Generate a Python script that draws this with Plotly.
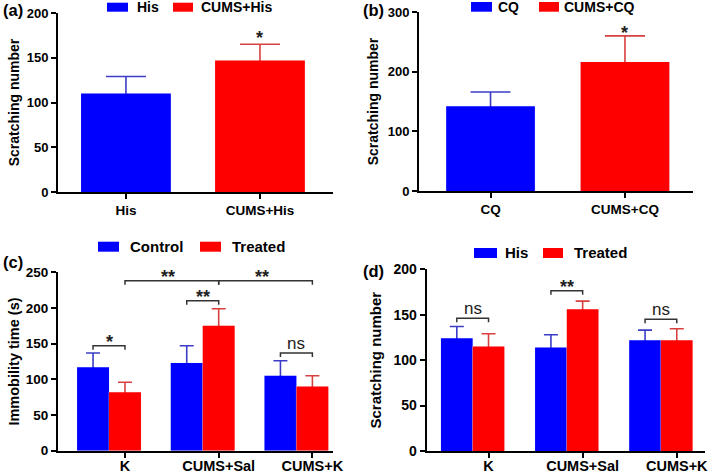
import plotly.graph_objects as go

# ---------------- data ----------------
a_categories = ["His", "CUMS+His"]
a_means = [110, 147]
a_sem = [19, 18]
a_sig = ["", "*"]

b_categories = ["CQ", "CUMS+CQ"]
b_means = [142, 216]
b_sem = [24, 44]
b_sig = ["", "*"]

c_groups = ["K", "CUMS+Sal", "CUMS+K"]
c_series = ["Control", "Treated"]
c_control = [117, 123, 105]
c_control_sem = [20, 24, 21]
c_treated = [82, 175, 90]
c_treated_sem = [14, 24, 15]
# within-group comparisons (group, label, bracket level)
c_within = [("K", "*", 147), ("CUMS+Sal", "**", 210), ("CUMS+K", "ns", 137)]
# between-group comparisons on treated bars (from, to, label, level)
c_between = [("K", "CUMS+Sal", "**", 238), ("CUMS+Sal", "CUMS+K", "**", 238)]

d_groups = ["K", "CUMS+Sal", "CUMS+K"]
d_series = ["His", "Treated"]
d_his = [124, 114, 122]
d_his_sem = [13, 14, 11]
d_treated = [115, 156, 122]
d_treated_sem = [14, 9, 12.5]
d_within = [("K", "ns", 146), ("CUMS+Sal", "**", 176.5), ("CUMS+K", "ns", 145)]

# ---------------- style ----------------
W, H = 709, 473
BLUE, RED = "#0000FF", "#FF0000"
EBLUE, ERED = "#3c3cc8", "#d84040"
FONT = "Arial, 'Liberation Sans', sans-serif"
BR = "#333333"


def px(x):
    return x / W


def py(y):
    return 1 - y / H


fig = go.Figure()


def bars(x, y, sem, color, ecolor, width, offset, hw, xa, ya, name):
    # error bars first (hidden bars) so the real bars cover the lower half
    fig.add_trace(go.Bar(x=x, y=y, marker_color="rgba(0,0,0,0)", width=width,
                         offset=offset, showlegend=False, hoverinfo="skip",
                         error_y=dict(type="data", array=sem, symmetric=True,
                                      color=ecolor, thickness=1.6, width=hw),
                         xaxis=xa, yaxis=ya))
    fig.add_trace(go.Bar(x=x, y=y, name=name, marker_color=color, width=width,
                         offset=offset, showlegend=False, marker_line_width=0,
                         xaxis=xa, yaxis=ya))


# ---- panel (a)
wa = 0.67
bars([a_categories[0]], [a_means[0]], [a_sem[0]], BLUE, EBLUE, wa, -wa / 2, 20, "x", "y", a_categories[0])
bars([a_categories[1]], [a_means[1]], [a_sem[1]], RED, ERED, wa, -wa / 2, 20, "x", "y", a_categories[1])
# ---- panel (b)
wb = 0.66
bars([b_categories[0]], [b_means[0]], [b_sem[0]], BLUE, EBLUE, wb, -wb / 2, 20, "x2", "y2", b_categories[0])
bars([b_categories[1]], [b_means[1]], [b_sem[1]], RED, ERED, wb, -wb / 2, 20, "x2", "y2", b_categories[1])
# ---- panel (c)
wc = 0.341
bars(c_groups, c_control, c_control_sem, BLUE, EBLUE, wc, -1.5 * wc, 7, "x3", "y3", c_series[0])
bars(c_groups, c_treated, c_treated_sem, RED, ERED, wc, -0.5 * wc, 7, "x3", "y3", c_series[1])
# ---- panel (d)
wd = 0.337
bars(d_groups, d_his, d_his_sem, BLUE, EBLUE, wd, -1.5 * wd, 7, "x4", "y4", d_series[0])
bars(d_groups, d_treated, d_treated_sem, RED, ERED, wd, -0.5 * wd, 7, "x4", "y4", d_series[1])

shapes = []
annotations = []


def bracket(xr, yr, x0, x1, level, depth):
    shapes.append(dict(type="path", xref=xr, yref=yr,
                       path=f"M{x0},{level - depth} L{x0},{level} L{x1},{level} L{x1},{level - depth}",
                       line=dict(color=BR, width=1.5)))


def sig_label(xr, yr, x, y, text):
    star = text != "ns"
    annotations.append(dict(xref=xr, yref=yr, x=x, y=y, text=text, showarrow=False,
                            xanchor="center", yanchor="bottom",
                            yshift=-8 if star else -2,
                            font=dict(family=FONT, size=18 if star else 17,
                                      color="#222", weight="bold" if star else "normal")))


# (a),(b) stars above bars
for i, s in enumerate(a_sig):
    if s:
        annotations.append(dict(xref="x", yref="y", x=i, y=a_means[i] + a_sem[i], text=s,
                                showarrow=False, yanchor="bottom", yshift=-6,
                                font=dict(family=FONT, size=18, color="#222", weight="bold")))
for i, s in enumerate(b_sig):
    if s:
        annotations.append(dict(xref="x2", yref="y2", x=i, y=b_means[i] + b_sem[i], text=s,
                                showarrow=False, yanchor="bottom", yshift=-9,
                                font=dict(family=FONT, size=18, color="#222", weight="bold")))

# (c) brackets
dep_c = 4 / 0.7136
for g, lab, lev in c_within:
    i = c_groups.index(g)
    bracket("x3", "y3", i - wc, i, lev, dep_c)
    sig_label("x3", "y3", i - wc / 2, lev, lab)
for g0, g1, lab, lev in c_between:
    i0, i1 = c_groups.index(g0), c_groups.index(g1)
    bracket("x3", "y3", i0, i1, lev, dep_c)
    sig_label("x3", "y3", (i0 + i1) / 2 - 0.04, lev, lab)

# (d) brackets
dep_d = 4 / 0.9083
for g, lab, lev in d_within:
    i = d_groups.index(g)
    bracket("x4", "y4", i - wd, i, lev, dep_d)
    sig_label("x4", "y4", i - wd / 2, lev, lab)

# panel letters
for lab, x, y, anc in [("(a)", 2, 0, "top"), ("(b)", 362, 0, "top"),
                       ("(c)", 2, 262, "middle"), ("(d)", 362, 271, "middle")]:
    annotations.append(dict(xref="paper", yref="paper", x=px(x), y=py(y), text=lab,
                            showarrow=False, xanchor="left", yanchor=anc, borderpad=0,
                            font=dict(family=FONT, size=16.5, color="black", weight="bold")))


# legends: swatch (x0, x1, y0, y1) and text start x, in pixels
def legend(names, boxes, size):
    for name, color, (x0, x1, y0, y1, tx) in zip(names, [BLUE, RED], boxes):
        shapes.append(dict(type="rect", xref="paper", yref="paper",
                           x0=px(x0), x1=px(x1), y0=py(y1), y1=py(y0),
                           fillcolor=color, line=dict(width=0)))
        annotations.append(dict(xref="paper", yref="paper", x=px(tx), y=py((y0 + y1) / 2),
                                text=name, showarrow=False, xanchor="left",
                                yanchor="middle", borderpad=0,
                                font=dict(family=FONT, size=size, color="black", weight="bold")))


legend(a_categories, [(107, 128, 2.7, 11.7, 136), (173, 193, 2.7, 11.7, 200)], 14)
legend(b_categories, [(471, 492, 2, 11.7, 497), (539, 559, 2, 11.7, 563)], 14)
legend(c_series, [(98, 119, 241.7, 251.7, 129), (200, 221, 241.7, 251.7, 231)], 15)
legend(d_series, [(474, 497, 248, 258, 504), (543, 563, 248, 258, 573)], 15)


def xax(dom, rng, anchor, cats, size, standoff=0):
    return dict(domain=[px(dom[0]), px(dom[1])], range=rng, anchor=anchor,
                type="category", categoryorder="array", categoryarray=cats,
                showline=True, linecolor="black", linewidth=2, ticks="outside",
                ticklen=5, tickwidth=2, tickcolor="black", showgrid=False,
                zeroline=False, fixedrange=True, automargin=False,
                ticklabelstandoff=standoff,
                tickfont=dict(family=FONT, size=size, color="black", weight="bold"))


def yax(dom, rng, dtick, anchor, title, tsize, tickfs=13, standoff=8):
    return dict(domain=[py(dom[1]), py(dom[0])], range=rng, dtick=dtick, anchor=anchor,
                showline=True, linecolor="black", linewidth=2, ticks="outside",
                ticklen=5, tickwidth=2, tickcolor="black", showgrid=False,
                zeroline=False, fixedrange=True, automargin=False,
                tickfont=dict(family=FONT, size=tickfs, color="black", weight="bold"),
                title=dict(text=title, standoff=standoff,
                           font=dict(family=FONT, size=tsize, color="black", weight="bold")))


fig.update_layout(
    width=W, height=H, margin=dict(l=0, r=0, t=0, b=0),
    paper_bgcolor="white", plot_bgcolor="white", barmode="overlay", showlegend=False,
    xaxis=xax((58, 333), [-0.507, 1.545], "y", a_categories, 13.5),
    yaxis=yax((13, 192), [0, 200], 50, "x", "Scratching number", 14, standoff=4),
    xaxis2=xax((419, 693), [-0.532, 1.506], "y2", b_categories, 13.5),
    yaxis2=yax((12, 191), [0, 300], 100, "x2", "Scratching number", 14, standoff=6),
    xaxis3=xax((58, 333), [-0.715, 2.22], "y3", c_groups, 14.5, standoff=-4),
    yaxis3=yax((272.3, 450.7), [0, 250], 50, "x3", "Immobility time (s)", 14.5,
               tickfs=13.5, standoff=3),
    xaxis4=xax((426.7, 705), [-0.657, 2.30], "y4", d_groups, 14.5, standoff=-4),
    yaxis4=yax((269.3, 451), [0, 200], 50, "x4", "Scratching number", 15, tickfs=14),
    shapes=shapes, annotations=annotations,
)

fig.write_html("out.html", config={"displayModeBar": False},
               post_script="document.body.style.margin='0';")
